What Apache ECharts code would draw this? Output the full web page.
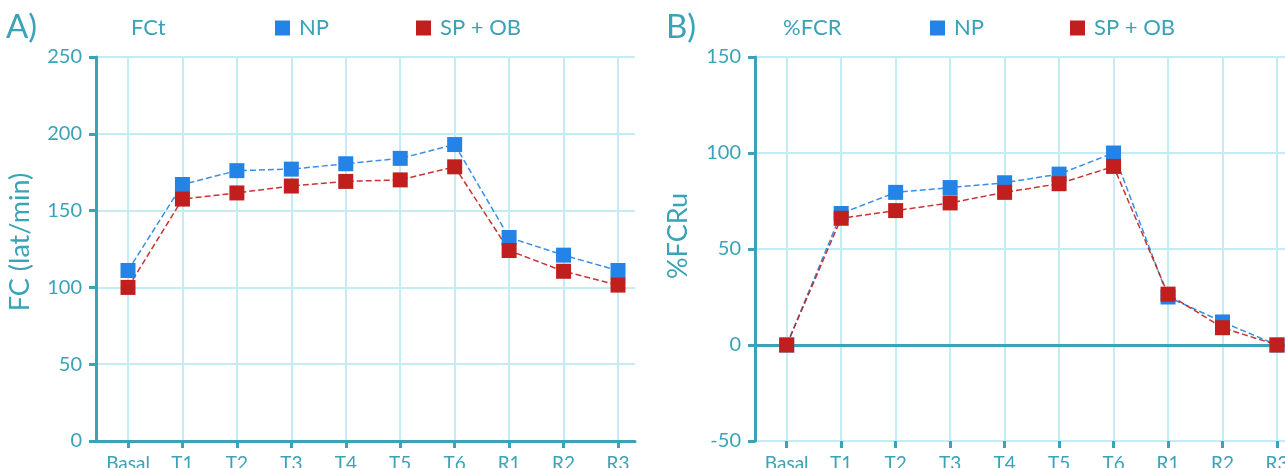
<!DOCTYPE html>
<html>
<head>
<meta charset="utf-8">
<script src="https://cdn.jsdelivr.net/npm/echarts@6/dist/echarts.min.js"></script>
<style>
html, body { margin: 0; padding: 0; background: #fff; }
#main { width: 1285px; height: 468px; }
</style>
</head>
<body>
<div id="main"></div>
<script>
var categories = ['Basal', 'T1', 'T2', 'T3', 'T4', 'T5', 'T6', 'R1', 'R2', 'R3'];
// A) FCt (lat/min)
var fctNP = [111, 167, 176, 177, 180.5, 184, 193, 132.5, 121, 111];
var fctSPOB = [100, 157.5, 161.5, 166, 169, 170, 178.5, 124, 110.5, 101.5];
// B) %FCR
var fcrNP = [0, 68.5, 79.5, 82, 84.5, 89, 100, 25, 12, 0];
var fcrSPOB = [0, 66, 70, 74, 79.5, 84, 93, 26.5, 9, 0];

var teal = '#3aa3b7';
var gridColor = '#c4ecf5';
var blue = '#2383e6';
var red = '#c01f1d';
var font = 'Lato';

var myChart = echarts.init(document.getElementById('main'));

function frameY(min, max, name, gap, lift) {
    return {
        type: 'value', min: min, max: max, interval: 50,
        name: name, nameLocation: 'middle', nameGap: gap,
        nameTextStyle: { color: teal, fontSize: 27, fontFamily: font, padding: [0, 0, 0, lift] },
        axisLine: { show: true, lineStyle: { color: teal, width: 3 } },
        axisTick: { show: true, length: 7, lineStyle: { color: teal, width: 3 } },
        axisLabel: { color: teal, fontSize: 20, fontFamily: font, margin: 14 },
        splitLine: { show: true, lineStyle: { color: gridColor, width: 2 } }
    };
}
function hiddenY(min, max, idx) {
    return { type: 'value', min: min, max: max, interval: 50, gridIndex: idx, show: false };
}
function frameX(idx) {
    return {
        type: 'value', gridIndex: idx, min: 0, max: 1,
        axisLine: { show: true, onZero: true, lineStyle: { color: teal, width: 3 } },
        axisTick: { show: false }, axisLabel: { show: false }, splitLine: { show: false }
    };
}
function catX(idx) {
    return {
        type: 'category', gridIndex: idx, data: categories, boundaryGap: false,
        axisLine: { show: false, onZero: false },
        axisTick: { show: true, length: 7, lineStyle: { color: teal, width: 3 } },
        axisLabel: { color: teal, fontSize: 19, fontFamily: font, margin: 13, interval: 0 },
        splitLine: { show: true, interval: 0, lineStyle: { color: gridColor, width: 2 } }
    };
}
function lineSeries(name, data, color, idx) {
    return {
        name: name, type: 'line', data: data,
        xAxisIndex: idx, yAxisIndex: idx, clip: false,
        symbol: 'rect', symbolSize: 15, showSymbol: true,
        itemStyle: { color: color },
        lineStyle: { color: color, width: 1.5, type: [6, 3], opacity: 0.9 }
    };
}
function legendAt(name, left) {
    return {
        data: [name], left: left, top: 12, icon: 'rect', itemWidth: 15, itemHeight: 15,
        textStyle: { color: teal, fontSize: 22, fontFamily: font, padding: [0, 0, 0, 4] }
    };
}

var option = {
    animation: false,
    backgroundColor: '#fff',
    title: [
        { text: 'A)', left: 1, top: 6, textStyle: { color: teal, fontSize: 33, fontWeight: 'normal', fontFamily: font } },
        { text: 'FCt', left: 126, top: 12, textStyle: { color: teal, fontSize: 22, fontWeight: 'normal', fontFamily: font } },
        { text: 'B)', left: 661, top: 6, textStyle: { color: teal, fontSize: 33, fontWeight: 'normal', fontFamily: font } },
        { text: '%FCR', left: 778, top: 12, textStyle: { color: teal, fontSize: 22, fontWeight: 'normal', fontFamily: font } }
    ],
    legend: [
        legendAt('NP', 270),
        legendAt('SP + OB', 411),
        legendAt('NP', 925),
        legendAt('SP + OB', 1065)
    ],
    grid: [
        { left: 96, top: 57, width: 539, height: 384, outerBoundsMode: 'none' },
        { left: 128, top: 57, width: 490, height: 384, outerBoundsMode: 'none' },
        { left: 755, top: 57, width: 580, height: 384, outerBoundsMode: 'none' },
        { left: 786.7, top: 57, width: 490.3, height: 384, outerBoundsMode: 'none' }
    ],
    xAxis: [frameX(0), catX(1), frameX(2), catX(3)],
    yAxis: [
        Object.assign(frameY(0, 250, 'FC (lat/min)', 62, 14), { gridIndex: 0 }),
        hiddenY(0, 250, 1),
        Object.assign(frameY(-50, 150, '%FCRu', 63, 26), { gridIndex: 2 }),
        hiddenY(-50, 150, 3)
    ],
    series: [
        lineSeries('NP', fctNP, blue, 1),
        lineSeries('SP + OB', fctSPOB, red, 1),
        lineSeries('NP', fcrNP, blue, 3),
        lineSeries('SP + OB', fcrSPOB, red, 3)
    ]
};
myChart.setOption(option);
</script>
</body>
</html>
